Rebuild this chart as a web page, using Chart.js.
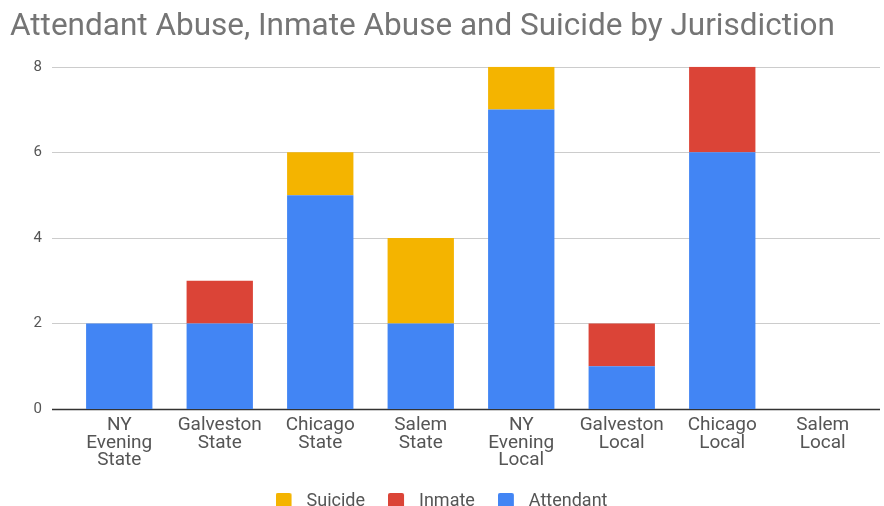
<!DOCTYPE html>
<html>
<head>
<meta charset="utf-8">
<script src="https://cdn.jsdelivr.net/npm/chart.js@4.4.1/dist/chart.umd.min.js"></script>
<style>
  html, body { margin: 0; padding: 0; background: #fff; }
  #wrap { width: 884px; height: 506px; }
</style>
</head>
<body>
<div id="wrap"><canvas id="abuse"></canvas></div>
<script>
(function () {
  'use strict';

  const categories = [
    ['NY', 'Evening', 'State'],
    ['Galveston', 'State'],
    ['Chicago', 'State'],
    ['Salem', 'State'],
    ['NY', 'Evening', 'Local'],
    ['Galveston', 'Local'],
    ['Chicago', 'Local'],
    ['Salem', 'Local']
  ];
  const attendant = [2, 2, 5, 2, 7, 1, 6, 0];
  const inmate = [0, 1, 0, 0, 0, 1, 2, 0];
  const suicide = [0, 0, 1, 2, 1, 0, 0, 0];
  const yTicks = [0, 2, 4, 6, 8];

  // gridlines run wider than the bars, like the Google chart
  const wideGrid = {
    id: 'wideGrid',
    beforeDatasetsDraw(chart) {
      const y = chart.scales.y;
      const ctx = chart.ctx;
      ctx.save();
      yTicks.forEach((v) => {
        const py = Math.round(y.getPixelForValue(v)) + 0.5;
        ctx.strokeStyle = v === 0 ? '#333333' : '#cccccc';
        ctx.lineWidth = v === 0 ? 1.5 : 1;
        ctx.beginPath();
        ctx.moveTo(52, py);
        ctx.lineTo(880, py);
        ctx.stroke();
      });
      ctx.restore();
    }
  };

  // legend swatch: small rounded square with empty room on its right
  function swatch(colour) {
    const c = document.createElement('canvas');
    c.width = 22;
    c.height = 16;
    const g = c.getContext('2d');
    g.fillStyle = colour;
    g.beginPath();
    g.roundRect(0, 0, 16, 16, 2);
    g.fill();
    return c;
  }

  const ctx = document.getElementById('abuse').getContext('2d');

  window.abuseChart = new Chart(ctx, {
    type: 'bar',
    data: {
      labels: categories,
      datasets: [
        { label: 'Attendant', data: attendant, backgroundColor: '#4285F4' },
        { label: 'Inmate', data: inmate, backgroundColor: '#DB4437' },
        { label: 'Suicide', data: suicide, backgroundColor: '#F4B400' }
      ]
    },
    plugins: [wideGrid],
    options: {
      responsive: true,
      maintainAspectRatio: false,
      animation: false,
      barPercentage: 0.66,
      categoryPercentage: 1,
      layout: { padding: { left: 10, right: 11, top: 8, bottom: -14 } },
      plugins: {
        title: {
          display: true,
          text: 'Attendant Abuse, Inmate Abuse and Suicide by Jurisdiction',
          align: 'start',
          color: '#757575',
          font: { family: 'Roboto', size: 31.5, weight: 'normal' },
          padding: { top: 0, bottom: 21 }
        },
        legend: {
          position: 'bottom',
          reverse: true,
          labels: {
            color: '#555',
            font: { family: 'Roboto', size: 18 },
            usePointStyle: true,
            pointStyleWidth: 22,
            boxHeight: 16,
            padding: 23,
            generateLabels(chart) {
              const items = Chart.defaults.plugins.legend.labels.generateLabels(chart);
              items.forEach((item) => {
                item.pointStyle = swatch(item.fillStyle);
              });
              return items;
            }
          }
        },
        tooltip: { enabled: false }
      },
      scales: {
        x: {
          stacked: true,
          grid: { display: false },
          border: { display: false },
          afterFit(scale) { scale.height = 60; },
          ticks: {
            color: '#555',
            font: { family: 'Roboto', size: 19, lineHeight: 0.92 },
            padding: 0,
            maxRotation: 0
          }
        },
        y: {
          stacked: true,
          min: 0,
          max: 8,
          grid: { display: false },
          border: { display: false },
          afterFit(scale) { scale.width = 59; },
          ticks: {
            stepSize: 2,
            color: '#555',
            font: { family: 'Roboto', size: 15 },
            padding: 19
          }
        }
      }
    }
  });

})();
</script>
</body>
</html>
